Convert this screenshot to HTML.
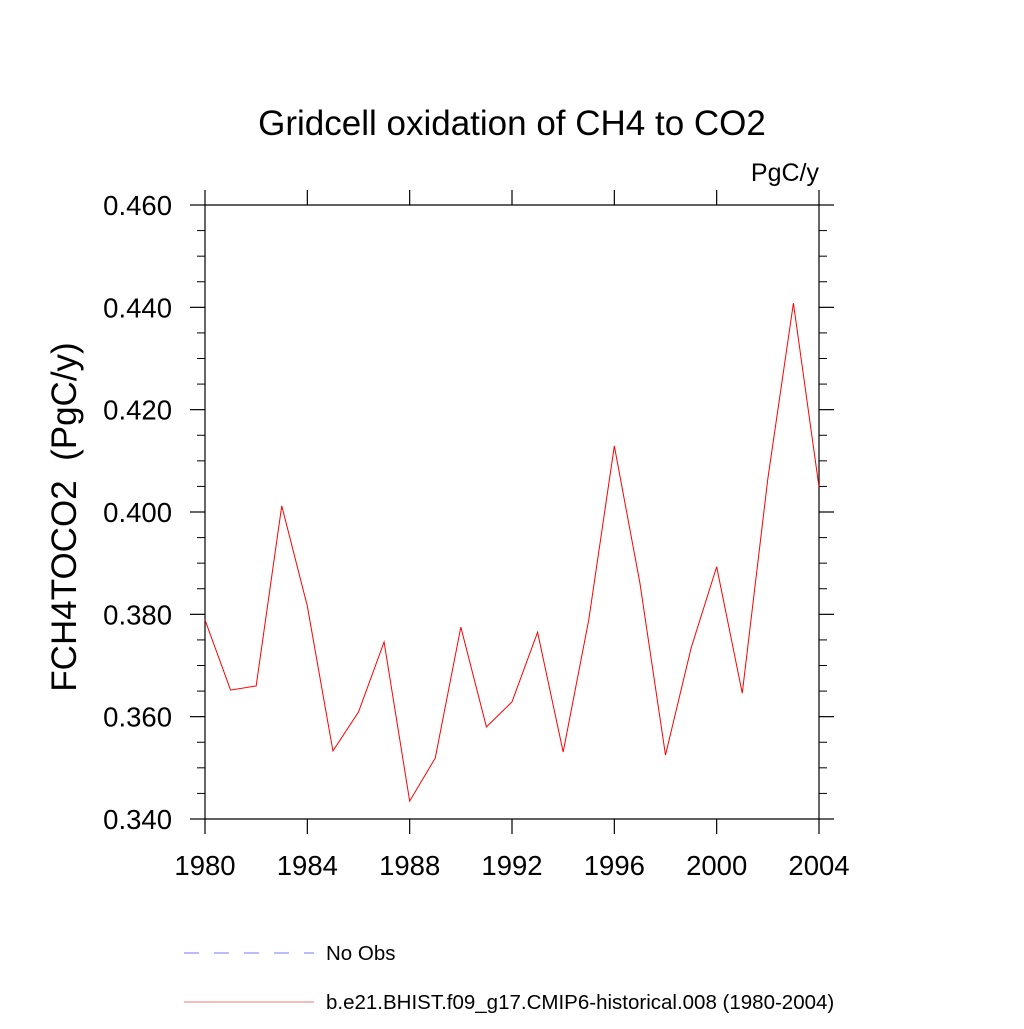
<!DOCTYPE html>
<html><head><meta charset="utf-8"><style>
body{margin:0;background:#fff;}
svg text{font-family:"Liberation Sans",sans-serif;fill:#000;}
</style></head><body>
<svg id="chart" width="1024" height="1024" viewBox="0 0 1024 1024" xmlns="http://www.w3.org/2000/svg">
<text x="512" y="135" font-size="35" text-anchor="middle">Gridcell oxidation of CH4 to CO2</text>
<text x="819" y="181" font-size="25" text-anchor="end">PgC/y</text>
<text transform="translate(76,517) rotate(-90)" font-size="35" text-anchor="middle" xml:space="preserve">FCH4TOCO2  (PgC/y)</text>
<g id="axes"></g>
<g id="series"></g>
<g>
<line x1="184" y1="953" x2="314" y2="953" stroke="#7777ff" stroke-width="1" stroke-dasharray="15,15"/>
<text x="326" y="960" font-size="20.5">No Obs</text>
<line x1="184" y1="1002" x2="314" y2="1002" stroke="#ee7777" stroke-width="1"/>
<text x="326" y="1009" font-size="20.5">b.e21.BHIST.f09_g17.CMIP6-historical.008 (1980-2004)</text>
</g>
</svg>
<script>
const years=[1980,1981,1982,1983,1984,1985,1986,1987,1988,1989,1990,1991,1992,1993,1994,1995,1996,1997,1998,1999,2000,2001,2002,2003,2004];
const values=[0.3789,0.3652,0.3660,0.4012,0.3816,0.3533,0.3609,0.3746,0.3435,0.3519,0.3775,0.3580,0.3629,0.3765,0.3531,0.3789,0.4129,0.3861,0.3525,0.3734,0.3893,0.3646,0.4065,0.4408,0.4049];
const xTicks=[1980,1984,1988,1992,1996,2000,2004];
const yTicks=[0.34,0.36,0.38,0.40,0.42,0.44,0.46];
const yTickLabels=["0.340","0.360","0.380","0.400","0.420","0.440","0.460"];
const L=205,R=819,T=205,B=819,x0=1980,x1=2004,y0=0.34,y1=0.46;
const X=v=>L+(v-x0)/(x1-x0)*(R-L);
const Y=v=>B-(v-y0)/(y1-y0)*(B-T);
const NS="http://www.w3.org/2000/svg";
const axes=document.getElementById('axes');
function ln(x1,y1,x2,y2,name,w){const e=document.createElementNS(NS,'line');e.setAttribute('x1',x1);e.setAttribute('y1',y1);e.setAttribute('x2',x2);e.setAttribute('y2',y2);e.setAttribute('stroke','#000');e.setAttribute('stroke-width',w||1.2);


axes.appendChild(e);}
ln(L,T,R,T,'plot-frame-top');ln(L,B,R,B,'plot-frame-bottom');ln(L,T,L,B,'plot-frame-left');ln(R,T,R,B,'plot-frame-right');
xTicks.forEach(v=>{const x=X(v);ln(x,B,x,B+15,'x-tick');ln(x,T,x,T-15,'x-tick-top');
const t=document.createElementNS(NS,'text');t.setAttribute('x',x);t.setAttribute('y',B+56);t.setAttribute('font-size','27.5');t.setAttribute('text-anchor','middle');t.textContent=v;


axes.appendChild(t);});
for(let v=y0;v<=y1+1e-9;v+=0.005){const y=Y(v);const major=Math.abs(Math.round(v*1000)%20)<1e-6;if(!major){ln(L,y,L-8,y,'y-minor-tick',1);ln(R,y,R+8,y,'y-minor-tick-right',1);}}
yTicks.forEach((v,i)=>{const y=Y(v);ln(L,y,L-15,y,'y-tick');ln(R,y,R+15,y,'y-tick-right');
const t=document.createElementNS(NS,'text');t.setAttribute('x',L-33);t.setAttribute('y',y+10);t.setAttribute('font-size','27.5');t.setAttribute('text-anchor','end');t.textContent=yTickLabels[i];


axes.appendChild(t);});
const p=document.createElementNS(NS,'polyline');
p.setAttribute('points',years.map((yr,i)=>X(yr)+','+Y(values[i])).join(' '));
p.setAttribute('fill','none');p.setAttribute('stroke','#ff0000');p.setAttribute('stroke-width','1');


document.getElementById('series').appendChild(p);
</script>
</body></html>
